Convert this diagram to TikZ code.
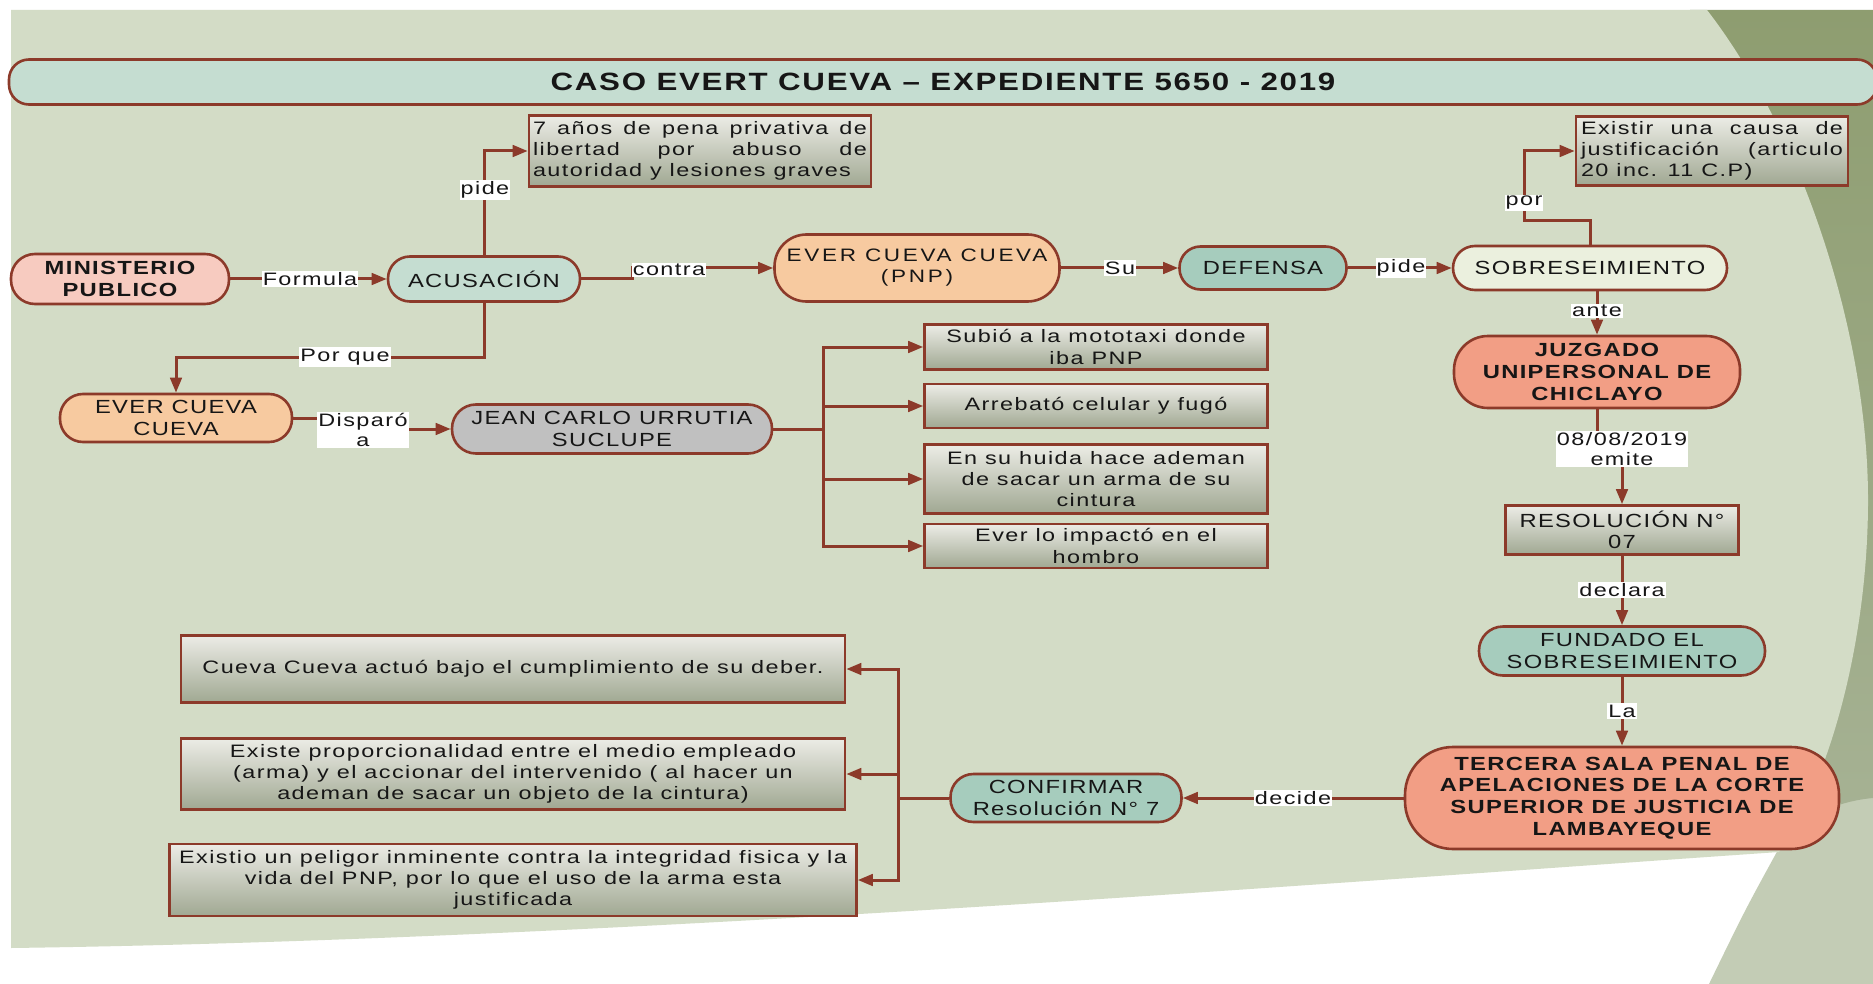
\documentclass[tikz,border=0pt]{standalone}
\usepackage{fontspec}
\setmainfont{Liberation Sans}
\newfontfamily\nfont[FakeStretch=1.25,LetterSpace=7]{Liberation Sans}
\newfontfamily\wfont[FakeStretch=1.25,LetterSpace=15]{Liberation Sans}
\newfontfamily\bfont[FakeStretch=1.3,LetterSpace=8]{Liberation Sans}
\usetikzlibrary{arrows.meta}
\definecolor{brd}{RGB}{140,58,42}
\definecolor{sage}{RGB}{211,220,198}
\definecolor{bandtop}{RGB}{142,157,112}
\definecolor{bandbot}{RGB}{166,178,148}
\definecolor{cornerc}{RGB}{195,204,181}
\definecolor{titlef}{RGB}{197,221,209}
\definecolor{pinkf}{RGB}{247,203,192}
\definecolor{peachf}{RGB}{247,202,160}
\definecolor{tealf}{RGB}{166,204,189}
\definecolor{creamf}{RGB}{235,240,222}
\definecolor{salmonf}{RGB}{242,158,133}
\definecolor{grayf}{RGB}{192,192,192}
\definecolor{boxtop}{RGB}{236,236,230}
\definecolor{boxbot}{RGB}{160,168,146}
\definecolor{txt}{RGB}{22,22,22}
\tikzset{
  base/.style={draw=brd, line width=2.6pt, inner sep=0pt, align=center, text=txt},
  pill/.style={base, rounded corners=#1, font=\nfont\fontsize{19}{21.7}\selectfont},
  pillb/.style={pill=#1, font=\nfont\bfseries\fontsize{19}{21.7}\selectfont},
  gbox/.style={base, top color=boxtop, bottom color=boxbot, font=\bfont\fontsize{18}{21.3}\selectfont},
  lbl/.style={fill=white, inner xsep=1pt, inner ysep=1.5pt, align=center, text=txt, font=\bfont\fontsize{18}{20}\selectfont},
  conn/.style={draw=brd, line width=3pt},
  arr/.style={conn, -{Triangle[length=15pt,width=11.5pt]}},
}
\begin{document}
\begin{tikzpicture}[x=1pt,y=-1pt]
\useasboundingbox (0,0) rectangle (1873,984);
% background
\fill[white] (0,0) rectangle (1873,984);
\fill[cornerc] (1709,984) .. controls (1745,910) .. (1779,848) -- (1873,780) -- (1873,984) -- cycle;
\shade[top color=bandtop, bottom color=bandbot] (1690,10) -- (1873,10) -- (1873,798) .. controls (1850,800) and (1820,808) .. (1790,830) -- (1690,830) -- cycle;
\fill[sage] (11,10) -- (1707,10) .. controls (1800,130) and (1868,330) .. (1868,500)
  .. controls (1868,640) and (1830,780) .. (1779,852)
  .. controls (1300,885) and (600,940) .. (11,948) -- cycle;
% title
\node[base, rounded corners=20pt, fill=titlef, minimum width=1868pt, minimum height=45pt,
  font=\nfont\bfseries\fontsize{25}{28}\selectfont] (title) at (943,82) {CASO EVERT CUEVA – EXPEDIENTE 5650 - 2019};
% nodes
\node[pillb=24pt, fill=pinkf, minimum width=218pt, minimum height=50pt] (mp) at (120,279) {MINISTERIO\\PUBLICO};
\node[pill=22pt, fill=titlef, minimum width=192pt, minimum height=45pt] (acu) at (484,279) {ACUSACIÓN};
\node[gbox, minimum width=342pt, minimum height=71pt, align=left] (pena) at (700,151)
  {\makebox[334pt][s]{7 años de pena privativa de}\\\makebox[334pt][s]{libertad por abuso de}\\autoridad y lesiones graves};
\node[pill=32pt, fill=peachf, minimum width=285pt, minimum height=67pt, font=\wfont\fontsize{18}{21}\selectfont] (pnp) at (917,268) {EVER CUEVA CUEVA\\(PNP)};
\node[pill=21pt, fill=tealf, minimum width=167pt, minimum height=43pt] (def) at (1263,268) {DEFENSA};
\node[pill=22pt, fill=creamf, minimum width=274pt, minimum height=44pt] (sob) at (1590,268) {SOBRESEIMIENTO};
\node[gbox, minimum width=272pt, minimum height=69pt, align=left] (exist) at (1712,151)
  {\makebox[262pt][s]{Existir una causa de}\\\makebox[262pt][s]{justificación (articulo}\\20 inc. 11 C.P)};
\node[pillb=34pt, fill=salmonf, minimum width=286pt, minimum height=72pt] (juz) at (1597,372) {JUZGADO\\UNIPERSONAL DE\\CHICLAYO};
\node[gbox, minimum width=233pt, minimum height=49pt, font=\nfont\fontsize{19}{21.7}\selectfont] (res) at (1622,530) {RESOLUCIÓN N°\\07};
\node[pill=24pt, fill=tealf, minimum width=286pt, minimum height=49pt] (fund) at (1622,651) {FUNDADO EL\\SOBRESEIMIENTO};
\node[pillb=48pt, fill=salmonf, minimum width=434pt, minimum height=102pt] (terc) at (1622,798) {TERCERA SALA PENAL DE\\APELACIONES DE LA CORTE\\SUPERIOR DE JUSTICIA DE\\LAMBAYEQUE};
\node[pill=23pt, fill=tealf, minimum width=231pt, minimum height=48pt] (conf) at (1066,798) {CONFIRMAR\\Resolución N° 7};
\node[pill=23pt, fill=peachf, minimum width=232pt, minimum height=48pt] (ever2) at (176,418) {EVER CUEVA\\CUEVA};
\node[pill=24pt, fill=grayf, minimum width=320pt, minimum height=49pt] (jean) at (612,429) {JEAN CARLO URRUTIA\\SUCLUPE};
\node[gbox, minimum width=343pt, minimum height=45pt] (bA) at (1096,347) {Subió a la mototaxi donde\\iba PNP};
\node[gbox, minimum width=343pt, minimum height=44pt] (bB) at (1096,406) {Arrebató celular y fugó};
\node[gbox, minimum width=343pt, minimum height=69pt] (bC) at (1096,479) {En su huida hace ademan\\de sacar un arma de su\\cintura};
\node[gbox, minimum width=343pt, minimum height=44pt] (bD) at (1096,546) {Ever lo impactó en el\\hombro};
\node[gbox, minimum width=664pt, minimum height=67pt] (b1) at (513,669) {Cueva Cueva actuó bajo el cumplimiento de su deber.};
\node[gbox, minimum width=664pt, minimum height=71pt] (b2) at (513,774) {Existe proporcionalidad entre el medio empleado\\(arma) y el accionar del intervenido ( al hacer un\\ademan de sacar un objeto de la cintura)};
\node[gbox, minimum width=687pt, minimum height=72pt] (b3) at (513,880) {Existio un peligor inminente contra la integridad fisica y la\\vida del PNP, por lo que el uso de la arma esta\\justificada};
% helper coordinates
\coordinate (ct) at (632,279);
\coordinate (pc) at (1524,221);
\coordinate (em) at (1610,449);
\coordinate (pq) at (345,357);
\coordinate (dj) at (363,424);
\coordinate (bus1) at (823,429);
\coordinate (bus2) at (898,798);
% connectors
\draw[arr] (mp.east) -- (acu.west);
\draw[arr] (acu.north) |- (pena.west);
\draw[arr] (acu.east) -- (ct) |- (pnp.west);
\draw[arr] (pnp.east) -- (def.west);
\draw[arr] (def.east) -- (sob.west);
\draw[arr] (sob.north) |- (pc) |- (exist.west);
\draw[arr] (sob.south -| juz.north) -- (juz.north);
\draw[arr] (juz.south) |- (em) -| (res.north);
\draw[arr] (res.south) -- (fund.north);
\draw[arr] (fund.south) -- (terc.north);
\draw[arr] (terc.west) -- (conf.east);
\draw[conn] (conf.west) -- (bus2);
\draw[arr] (bus2) |- (b1.east);
\draw[arr] (bus2) |- (b2.east);
\draw[arr] (bus2) |- (b3.east);
\draw[arr] (acu.south) |- (pq) -| (ever2.north);
\draw[arr] (ever2.east) -| (dj) |- (jean.west);
\draw[conn] (jean.east) -- (bus1);
\draw[arr] (bus1) |- (bA.west);
\draw[arr] (bus1) |- (bB.west);
\draw[arr] (bus1) |- (bC.west);
\draw[arr] (bus1) |- (bD.west);
% labels
\node[lbl] (lformula) at (310,279) {Formula};
\node[lbl] (lpide1) at (485,190) {pide};
\node[lbl] (lcontra) at (669,270) {contra};
\node[lbl] (lsu) at (1120,268) {Su};
\node[lbl] (lpide2) at (1401,268) {pide};
\node[lbl] (lpor) at (1524,203) {por};
\node[lbl] (lante) at (1597,311) {ante};
\node[lbl] (lemite) at (1622,449) {08/08/2019\\emite};
\node[lbl] (ldeclara) at (1622,590) {declara};
\node[lbl] (lla) at (1622,711) {La};
\node[lbl] (ldecide) at (1293,798) {decide};
\node[lbl] (lporque) at (345,357) {Por que};
\node[lbl] (ldisp) at (363,430) {Disparó\\a};
\end{tikzpicture}
\end{document}
